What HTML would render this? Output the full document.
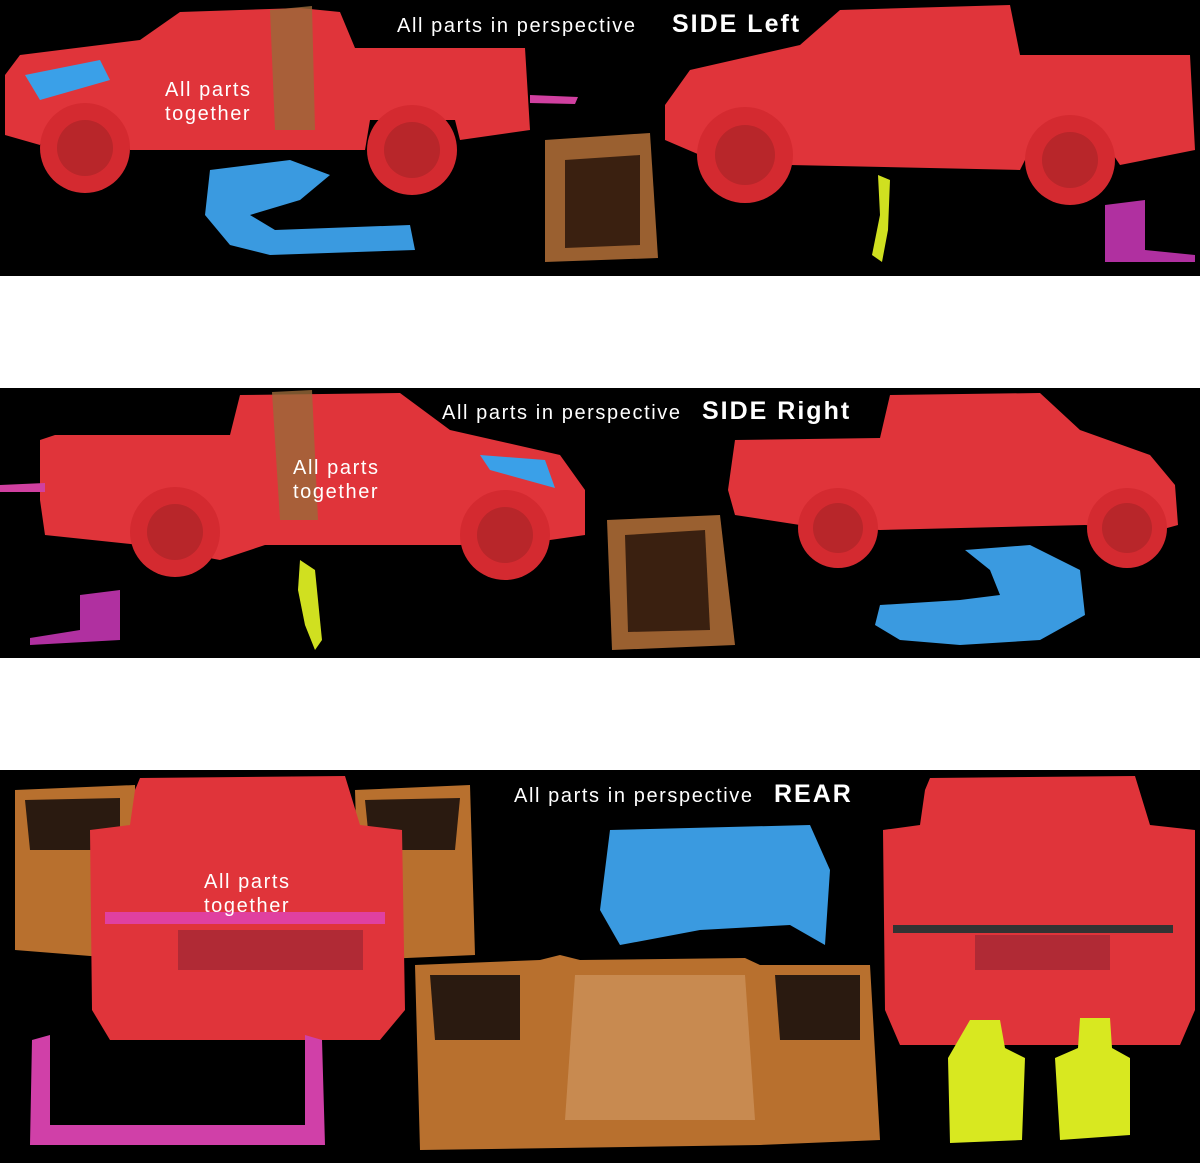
<!DOCTYPE html>
<html><head><meta charset="utf-8"><style>
html,body{margin:0;padding:0;background:#fff;width:1200px;height:1163px;overflow:hidden}
svg{display:block}
text{font-family:"Liberation Sans",sans-serif;fill:#fff;letter-spacing:1.6px}
text.b{letter-spacing:2px}
</style></head><body>
<svg width="1200" height="1163" viewBox="0 0 1200 1163" xmlns="http://www.w3.org/2000/svg">
<rect width="1200" height="1163" fill="#fff"/>
<rect x="0" y="0" width="1200" height="276" fill="#000"/>
<rect x="0" y="388" width="1200" height="270" fill="#000"/>
<rect x="0" y="770" width="1200" height="393" fill="#000"/>

<path d="M5,75 L20,55 L140,40 L180,12 L300,8 L340,12 L355,48 L525,48 L530,130 L460,140 L455,120 L370,120 L365,150 L130,150 L125,130 L45,130 L40,145 L5,135 Z" fill="#e0343a"/>
<path d="M270,10 L312,6 L315,130 L275,130 Z" fill="#9a6a3a" opacity="0.8"/>
<path d="M25,75 L100,60 L110,80 L40,100 Z" fill="#3aa0e8"/>
<circle cx="85" cy="148" r="45" fill="#d42a30"/><circle cx="85" cy="148" r="28" fill="#b8262a"/>
<circle cx="412" cy="150" r="45" fill="#d42a30"/><circle cx="412" cy="150" r="28" fill="#b8262a"/>
<path d="M530,95 L578,97 L575,104 L530,103 Z" fill="#d040a0"/>
<path d="M210,170 L290,160 L330,175 L300,200 L250,215 L275,230 L410,225 L415,250 L270,255 L230,245 L205,215 Z" fill="#3a9ae0"/>
<path d="M545,140 L650,133 L658,258 L545,262 Z" fill="#9a6030"/>
<path d="M565,160 L640,155 L640,245 L565,248 Z" fill="#3a2010"/>
<path d="M665,105 L690,70 L800,45 L840,10 L1010,5 L1020,55 L1190,55 L1195,150 L1120,165 L1110,150 L1030,150 L1020,170 L790,165 L780,150 L700,155 L665,140 Z" fill="#e0343a"/>
<circle cx="745" cy="155" r="48" fill="#d42a30"/><circle cx="745" cy="155" r="30" fill="#b8262a"/>
<circle cx="1070" cy="160" r="45" fill="#d42a30"/><circle cx="1070" cy="160" r="28" fill="#b8262a"/>
<path d="M878,175 L890,180 L888,230 L882,262 L872,255 L880,215 Z" fill="#d0e020"/>
<path d="M1105,205 L1145,200 L1145,250 L1195,255 L1195,262 L1105,262 Z" fill="#b030a0"/>
<text x="397" y="32" font-size="20">All parts in perspective</text>
<text class="b" x="672" y="32" font-size="25" font-weight="bold">SIDE Left</text>
<text x="165" y="96" font-size="20">All parts</text>
<text x="165" y="120" font-size="20">together</text>

<path d="M40,440 L55,435 L230,435 L240,395 L400,393 L450,430 L560,455 L585,490 L585,535 L550,540 L460,545 L265,545 L220,560 L140,545 L45,535 L40,500 Z" fill="#e0343a"/>
<path d="M272,392 L312,390 L318,520 L280,520 Z" fill="#9a6a3a" opacity="0.8"/>
<path d="M480,455 L545,460 L555,488 L490,470 Z" fill="#3aa0e8"/>
<circle cx="175" cy="532" r="45" fill="#d42a30"/><circle cx="175" cy="532" r="28" fill="#b8262a"/>
<circle cx="505" cy="535" r="45" fill="#d42a30"/><circle cx="505" cy="535" r="28" fill="#b8262a"/>
<path d="M0,485 L45,483 L45,492 L0,492 Z" fill="#d040a0"/>
<path d="M607,520 L720,515 L735,645 L612,650 Z" fill="#9a6030"/>
<path d="M625,535 L705,530 L710,630 L628,632 Z" fill="#3a2010"/>
<path d="M300,560 L315,570 L322,640 L315,650 L305,625 L298,590 Z" fill="#d0e020"/>
<path d="M80,595 L120,590 L120,640 L30,645 L30,638 L80,630 Z" fill="#b030a0"/>
<path d="M735,440 L880,438 L890,395 L1040,393 L1080,430 L1150,455 L1175,485 L1178,525 L1160,530 L1085,525 L880,530 L800,525 L735,515 L728,490 Z" fill="#e0343a"/>
<circle cx="838" cy="528" r="40" fill="#d42a30"/><circle cx="838" cy="528" r="25" fill="#b8262a"/>
<circle cx="1127" cy="528" r="40" fill="#d42a30"/><circle cx="1127" cy="528" r="25" fill="#b8262a"/>
<path d="M965,550 L1030,545 L1080,570 L1085,615 L1040,640 L960,645 L900,640 L875,625 L880,605 L960,600 L1000,595 L990,570 Z" fill="#3a9ae0"/>
<text x="442" y="419" font-size="20">All parts in perspective</text>
<text class="b" x="702" y="419" font-size="25" font-weight="bold">SIDE Right</text>
<text x="293" y="474" font-size="20">All parts</text>
<text x="293" y="498" font-size="20">together</text>

<path d="M15,790 L135,785 L140,960 L15,950 Z" fill="#b8702e"/>
<path d="M25,800 L120,798 L120,850 L30,850 Z" fill="#2a1a10"/>
<path d="M355,790 L470,785 L475,955 L360,960 Z" fill="#b8702e"/>
<path d="M365,800 L460,798 L455,850 L370,850 Z" fill="#2a1a10"/>
<path d="M135,790 L140,778 L345,776 L360,825 L402,830 L405,1010 L380,1040 L110,1040 L92,1010 L90,830 L130,825 Z" fill="#e0343a"/>
<rect x="178" y="930" width="185" height="40" fill="#b02a35"/>
<rect x="105" y="912" width="280" height="12" fill="#e040a0"/>
<path d="M32,1040 L50,1035 L50,1125 L305,1125 L305,1035 L322,1040 L325,1145 L30,1145 Z" fill="#d040a8"/>
<path d="M610,830 L810,825 L830,870 L825,945 L790,925 L700,930 L620,945 L600,910 Z" fill="#3a9ae0"/>
<path d="M415,965 L540,960 L560,955 L580,960 L745,958 L760,965 L870,965 L880,1140 L760,1145 L420,1150 Z" fill="#b8702e"/>
<path d="M575,975 L745,975 L755,1120 L565,1120 Z" fill="#c88a50"/>
<path d="M430,975 L520,975 L520,1040 L435,1040 Z" fill="#2a1a10"/>
<path d="M775,975 L860,975 L860,1040 L780,1040 Z" fill="#2a1a10"/>
<path d="M925,790 L930,778 L1135,776 L1150,825 L1195,830 L1195,1010 L1180,1045 L900,1045 L885,1010 L883,830 L920,825 Z" fill="#e0343a"/>
<rect x="975" y="935" width="135" height="35" fill="#b02a35"/>
<rect x="893" y="925" width="280" height="8" fill="#333"/>
<path d="M970,1020 L1000,1020 L1005,1048 L1025,1058 L1022,1140 L950,1143 L948,1058 Z" fill="#d8e820"/>
<path d="M1080,1018 L1110,1018 L1112,1048 L1130,1058 L1130,1135 L1060,1140 L1055,1058 L1078,1048 Z" fill="#d8e820"/>
<text x="514" y="802" font-size="20">All parts in perspective</text>
<text class="b" x="774" y="802" font-size="25" font-weight="bold">REAR</text>
<text x="204" y="888" font-size="20">All parts</text>
<text x="204" y="912" font-size="20">together</text>
</svg>
</body></html>
